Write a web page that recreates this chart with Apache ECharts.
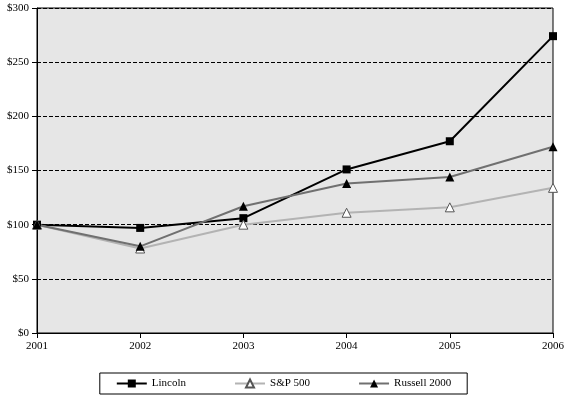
<!DOCTYPE html>
<html>
<head>
<meta charset="utf-8">
<script src="https://cdn.jsdelivr.net/npm/echarts@6/dist/echarts.min.js"></script>
<style>html,body{margin:0;padding:0;background:#fff}#main{width:567px;height:400px}</style>
</head>
<body>
<div id="main"></div>
<script>
var years = ['2001', '2002', '2003', '2004', '2005', '2006'];
var lincoln = [100, 97, 106, 151, 177, 274];
var sp500 = [100, 78, 100, 111, 116, 134];
var russell = [100, 80, 117, 138, 144, 172];

var font = 'Liberation Serif';
var myChart = echarts.init(document.getElementById('main'));
var option = {
    animation: false,
    textStyle: { fontFamily: font },
    grid: { left: 37, right: 11, top: 8, bottom: 67, show: true, backgroundColor: '#e6e6e6', borderColor: '#000', borderWidth: 1 },
    legend: {
        bottom: 6, left: 'center', itemGap: 48, itemWidth: 30, itemHeight: 10,
        padding: [5, 16], borderColor: '#000', borderWidth: 1,
        textStyle: { fontFamily: font, fontSize: 11, color: '#000' },
        data: ['Lincoln', 'S&P 500', 'Russell 2000']
    },
    xAxis: {
        type: 'category', data: years, boundaryGap: false,
        axisLine: { lineStyle: { color: '#000' } },
        axisTick: { show: true, alignWithLabel: true, lineStyle: { color: '#000' } },
        axisLabel: { color: '#000', fontSize: 11, fontFamily: font }
    },
    yAxis: {
        type: 'value', min: 0, max: 300, interval: 50,
        axisLine: { show: true, lineStyle: { color: '#000' } },
        axisTick: { show: true, lineStyle: { color: '#000' } },
        axisLabel: { color: '#000', fontSize: 11, fontFamily: font, formatter: '${value}' },
        splitLine: { lineStyle: { color: '#000', type: 'dashed', width: 1 } }
    },
    series: [
        { name: 'Lincoln', type: 'line', data: lincoln, symbol: 'rect', symbolSize: 8,
          lineStyle: { color: '#000', width: 2 }, itemStyle: { color: '#000' } },
        { name: 'S&P 500', type: 'line', data: sp500, symbol: 'triangle', symbolSize: 9,
          lineStyle: { color: '#b3b3b3', width: 2 }, itemStyle: { color: '#fff', borderColor: '#555', borderWidth: 1 } },
        { name: 'Russell 2000', type: 'line', data: russell, symbol: 'triangle', symbolSize: 9,
          lineStyle: { color: '#707070', width: 2 }, itemStyle: { color: '#000' } }
    ]
};
myChart.setOption(option, true);
</script>
</body>
</html>
